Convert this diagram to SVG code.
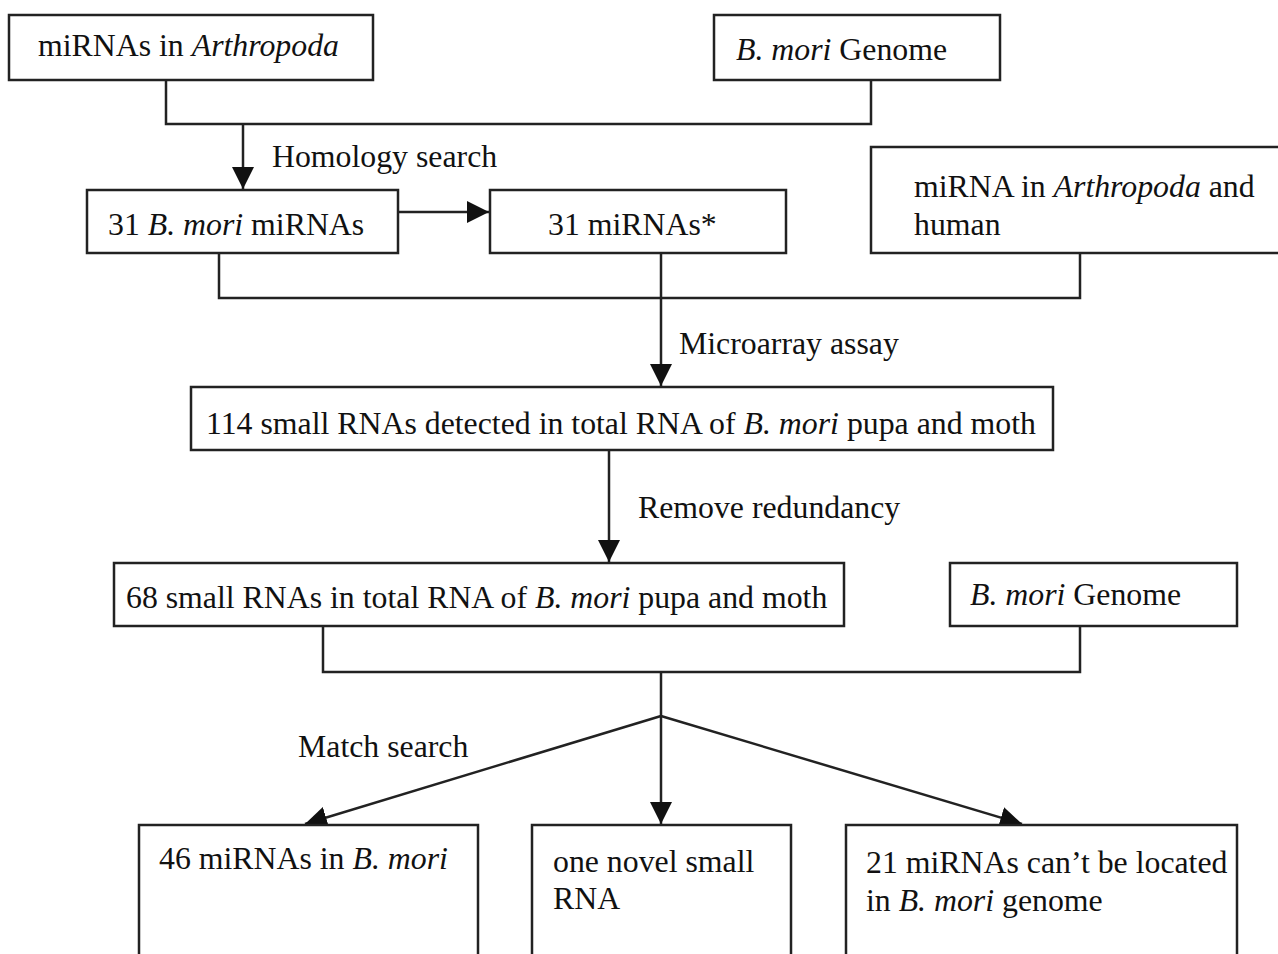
<svg xmlns="http://www.w3.org/2000/svg" width="1278" height="954" viewBox="0 0 1278 954">
<style>
.box{fill:#fff;stroke:#222;stroke-width:2.5}
.ln{fill:none;stroke:#222;stroke-width:2.5}
text{font-family:"Liberation Serif","Times New Roman",serif;font-size:31.8px;fill:#111}
.i{font-style:italic}
</style>
<defs>
<marker id="ahb" viewBox="0 0 10 10" refX="10" refY="5" markerWidth="22" markerHeight="22" markerUnits="userSpaceOnUse" orient="auto">
<path d="M0,0 L10,5 L0,10 Z" fill="#111"/>
</marker>
</defs>
<rect width="1278" height="954" fill="#fff"/>
<g id="connectors">
<polyline class="ln" points="166,80 166,124 871,124 871,80"/>
<line class="ln" x1="243" y1="124" x2="243" y2="189" marker-end="url(#ahb)"/>
<line class="ln" x1="398" y1="212" x2="489" y2="212" marker-end="url(#ahb)"/>
<polyline class="ln" points="219,253 219,298 1080,298 1080,253"/>
<line class="ln" x1="661" y1="253" x2="661" y2="386" marker-end="url(#ahb)"/>
<line class="ln" x1="609" y1="450" x2="609" y2="562" marker-end="url(#ahb)"/>
<polyline class="ln" points="323,626 323,672 1080,672 1080,626"/>
<line class="ln" x1="661" y1="672" x2="661" y2="824" marker-end="url(#ahb)"/>
<line class="ln" x1="661" y1="716" x2="305" y2="824" marker-end="url(#ahb)"/>
<line class="ln" x1="661" y1="716" x2="1022" y2="824" marker-end="url(#ahb)"/>
<text x="272" y="167">Homology search</text>
<text x="679" y="354">Microarray assay</text>
<text x="638" y="518">Remove redundancy</text>
<text x="298" y="757">Match search</text>
</g>
<g id="n1"><rect class="box" x="9" y="15" width="364" height="65"/><text x="38" y="56">miRNAs in <tspan class="i">Arthropoda</tspan></text></g>
<g id="n2"><rect class="box" x="714" y="15" width="286" height="65"/><text x="736" y="60"><tspan class="i">B. mori</tspan> Genome</text></g>
<g id="n3"><rect class="box" x="87" y="190" width="311" height="63"/><text x="108" y="235">31 <tspan class="i">B. mori</tspan> miRNAs</text></g>
<g id="n4"><rect class="box" x="490" y="190" width="296" height="63"/><text x="548" y="235">31 miRNAs*</text></g>
<g id="n5"><rect class="box" x="871" y="147" width="420" height="106"/><text x="914" y="197">miRNA in <tspan class="i">Arthropoda</tspan> and</text><text x="914" y="235">human</text></g>
<g id="n6"><rect class="box" x="191" y="387" width="862" height="63"/><text x="206" y="434">114 small RNAs detected in total RNA of <tspan class="i">B. mori</tspan> pupa and moth</text></g>
<g id="n7"><rect class="box" x="114" y="563" width="730" height="63"/><text x="126" y="608">68 small RNAs in total RNA of <tspan class="i">B. mori</tspan> pupa and moth</text></g>
<g id="n8"><rect class="box" x="950" y="563" width="287" height="63"/><text x="970" y="605"><tspan class="i">B. mori</tspan> Genome</text></g>
<g id="n9"><rect class="box" x="139" y="825" width="339" height="140"/><text x="159" y="869">46 miRNAs in <tspan class="i">B. mori</tspan></text></g>
<g id="n10"><rect class="box" x="532" y="825" width="259" height="140"/><text x="553" y="872">one novel small</text><text x="553" y="909">RNA</text></g>
<g id="n11"><rect class="box" x="846" y="825" width="391" height="140"/><text x="866" y="873">21 miRNAs can’t be located</text><text x="866" y="911">in <tspan class="i">B. mori</tspan> genome</text></g>
</svg>
